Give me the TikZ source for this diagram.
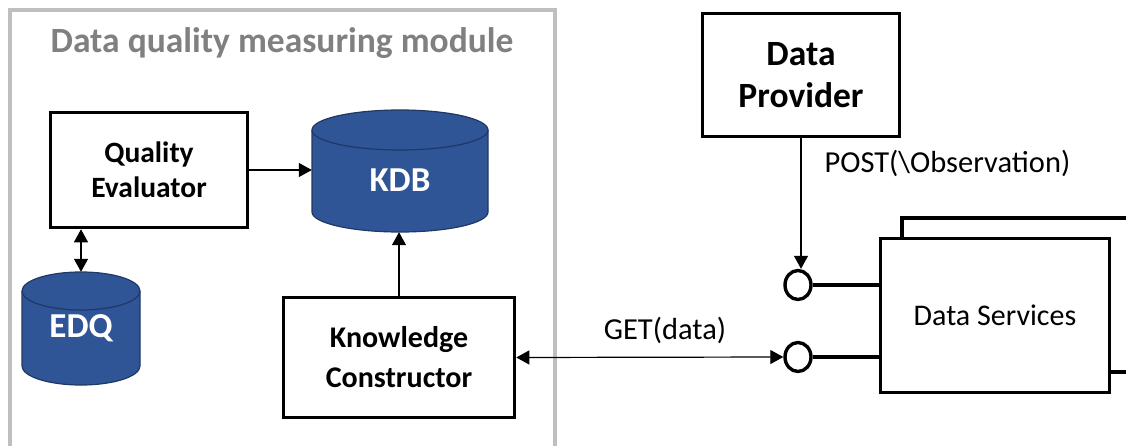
\documentclass[tikz,border=0pt]{standalone}
\usepackage{fontspec}
\setmainfont{Carlito}
\usetikzlibrary{arrows.meta,shapes.geometric}

\definecolor{dbblue}{RGB}{47,85,151}
\definecolor{dbedge}{RGB}{32,56,100}
\definecolor{framegray}{RGB}{191,191,191}
\definecolor{titlegray}{RGB}{128,128,128}

\begin{document}
\begin{tikzpicture}[x=1pt,y=-1pt,
  box/.style={draw, line width=3.6pt, fill=white, align=center, inner sep=0pt,
    font=\bfseries\fontsize{30}{40}\selectfont},
  dbarea/.style={inner sep=0pt, text=white, font=\bfseries\fontsize{35}{40}\selectfont},
  dbshape/.style={fill=dbblue, draw=dbedge, line width=1.2pt},
  port/.style={ellipse, draw, line width=3.4pt, fill=white, minimum width=26pt, minimum height=29pt, inner sep=0pt},
  arr/.style={line width=1.2pt, -{Triangle[length=13pt,width=14pt]}},
  darr/.style={line width=1.2pt, {Triangle[length=13pt,width=14pt]}-{Triangle[length=13pt,width=14pt]}},
  plain/.style={font=\fontsize{30.5}{34}\selectfont}
]
\useasboundingbox (0,0) rectangle (1126,446);
\clip (0,0) rectangle (1126,446);
\fill[white] (0,0) rectangle (1126,446);

% module frame
\draw[framegray, line width=4pt] (10,460) -- (10,10) -- (555,10) -- (555,460);
\node[text=titlegray, font=\bfseries\fontsize{35.5}{40}\selectfont] (title) at (282,43) {Data quality measuring module};

% databases
\node[dbarea, minimum width=176pt, minimum height=122pt] (kdb) at (400,171) {};
\draw[dbshape] (312,130) -- (312,212) arc[start angle=180, end angle=360, x radius=88, y radius=-20]
  -- (488,130) arc[start angle=0, end angle=180, x radius=88, y radius=-20] -- cycle;
\draw[dbedge, line width=1.2pt] (312,130) arc[start angle=180, end angle=360, x radius=88, y radius=-20];
\node[dbarea] at (400,180) {KDB};

\node[dbarea, minimum width=118pt, minimum height=113pt] (edq) at (81,328.5) {};
\draw[dbshape] (22,291) -- (22,366) arc[start angle=180, end angle=360, x radius=59, y radius=-19]
  -- (140,291) arc[start angle=0, end angle=180, x radius=59, y radius=-19] -- cycle;
\draw[dbedge, line width=1.2pt] (22,291) arc[start angle=180, end angle=360, x radius=59, y radius=-19];
\node[dbarea] at (81,328) {EDQ};

% components
\node[box, minimum width=197pt, minimum height=115pt, font=\bfseries\fontsize{29.5}{35}\selectfont] (qe) at (149,170) {Quality\\Evaluator};
\node[box, minimum width=231pt, minimum height=120pt] (kc) at (399,357.5) {Knowledge\\Constructor};
\node[box, minimum width=197pt, minimum height=123pt, font=\bfseries\fontsize{35.5}{42}\selectfont] (dp) at (801,75) {Data\\Provider};

% data services (stacked)
\draw[line width=3.6pt, fill=white] (1140,372) -- (902,372) -- (902,218) -- (1140,218);
\node[box, minimum width=229pt, minimum height=154pt, font=\fontsize{30}{36}\selectfont] (ds) at (995,315.5) {Data Services};

% interfaces
\node[port] (p1) at (798,285) {};
\node[port] (p2) at (798,357) {};
\draw[line width=3.4pt] (p1.east) -- (p1.east -| ds.west);
\draw[line width=3.4pt] (p2.east) -- (p2.east -| ds.west);

% connectors
\draw[arr] (qe.east) -- (qe.east -| kdb.west);
\draw[arr] (kc.north) -- (kc.north |- kdb.south);
\draw[darr] (qe.south -| edq.north) -- (edq.north);
\draw[darr] (kc.east) -- (p2.west);
\draw[arr] (dp.south) -- (dp.south |- p1.north);

\node[plain, anchor=west] (post) at (821,163) {POST(\textbackslash Observation)};
\node[plain] (get) at (665,330) {GET(data)};
\end{tikzpicture}
\end{document}
